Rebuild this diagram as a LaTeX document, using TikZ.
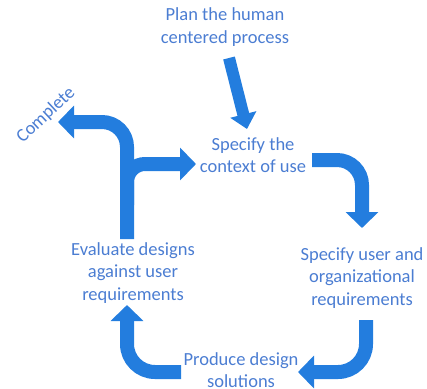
\documentclass[tikz,border=0pt]{standalone}
\usepackage{fontspec}
\setmainfont{Carlito}
\usetikzlibrary{arrows.meta}
\definecolor{txtblue}{RGB}{75,125,210}
\definecolor{arrblue}{RGB}{35,125,222}
\tikzset{
  lbl/.style={text=txtblue, font=\fontsize{18.5}{22.5}\selectfont, align=center, inner sep=0pt},
  bigarrow/.style={draw=arrblue, line width=14pt, -{Triangle[width=32pt,length=16pt]}},
  smallarrow/.style={draw=arrblue, line width=12pt, -{Triangle[width=26pt,length=15pt]}}
}
\begin{document}
\begin{tikzpicture}[x=1pt,y=-1pt]
\useasboundingbox (0,0) rectangle (427,388);
\node[lbl] (plan) at (225,27) {Plan the human\\centered process};
\node[lbl] (ctx) at (253,155) {Specify the\\context of use};
\node[lbl] (req) at (362,278) {Specify user and\\organizational\\requirements};
\node[lbl] (eval) at (133,273) {Evaluate designs\\against user\\requirements};
\node[lbl] (prod) at (241,370) {Produce design\\solutions};
\node[lbl, rotate=43] (done) at (46,115) {Complete};

\coordinate (a1s) at (229,58);
\coordinate (a1e) at (247,129);
\draw[smallarrow] (a1s) -- (a1e);

\coordinate (a2s) at (312,160);
\coordinate (a2c) at (362,160);
\coordinate (a2e) at (362,228);
\draw[bigarrow, rounded corners=25pt] (a2s) -- (a2c) -- (a2e);

\coordinate (a3s) at (366,320);
\coordinate (a3c) at (366,372);
\coordinate (a3e) at (298,372);
\draw[bigarrow, rounded corners=28pt] (a3s) -- (a3c) -- (a3e);

\coordinate (a4s) at (181,372);
\coordinate (a4c) at (127,372);
\coordinate (a4e) at (127,305);
\draw[bigarrow, rounded corners=28pt] (a4s) -- (a4c) -- (a4e);

\coordinate (a5s) at (127,239);
\coordinate (a5c) at (127,122);
\coordinate (a5e) at (58,122);
\draw[bigarrow, rounded corners=25pt] (a5s) -- (a5c) -- (a5e);

\coordinate (a6s) at (127,205);
\coordinate (a6c) at (127,164);
\coordinate (a6e) at (196,164);
\draw[bigarrow, rounded corners=18pt] (a6s) -- (a6c) -- (a6e);
\end{tikzpicture}
\end{document}
